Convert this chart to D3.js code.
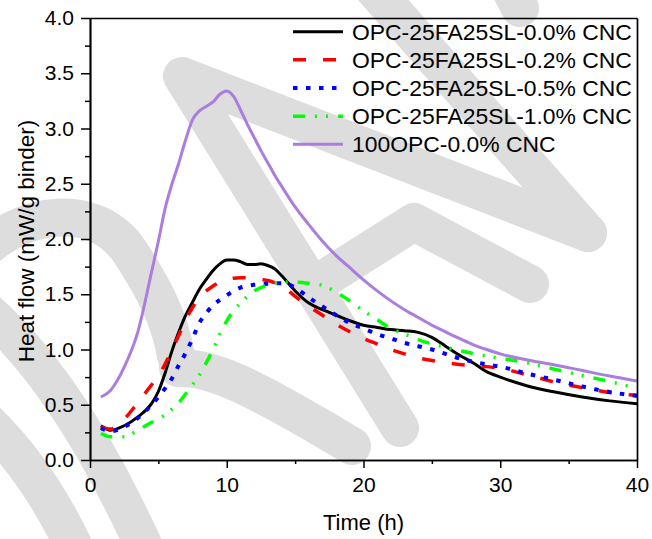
<!DOCTYPE html>
<html>
<head>
<meta charset="utf-8">
<script src="https://cdn.jsdelivr.net/npm/d3@7"></script>
<style>
  html, body { margin: 0; padding: 0; background: #fff; }
  svg { display: block; }
  text { font-family: "Liberation Sans", Arial, sans-serif; fill: #000; }
</style>
</head>
<body>
<svg id="chart" width="652" height="539"></svg>
<script>
// ---------------- data ----------------
const hours = [0.8,1.5,2.5,3.5,4.5,5,5.5,6,6.5,7,7.5,8,8.5,9,9.5,10,10.5,11,11.5,12,12.5,13,13.5,14,15,16,17,18,19,20,21,22,23,24,25,26,27,28,29,30,32,34,36,38,40];

const cnc00 = [0.31,0.27,0.31,0.39,0.51, 0.62,0.79,0.99,1.16,1.31, 1.43,1.545,1.635,1.715,1.775, 1.81,1.81,1.795,1.77,1.77, 1.775,1.76,1.73,1.67,1.53, 1.42,1.36,1.31,1.26,1.22, 1.20,1.18,1.17,1.155,1.11, 1.03,0.95,0.88,0.80,0.75, 0.67,0.615,0.57,0.535,0.51];
const cnc02 = [0.30,0.28,0.37,0.52,0.68, 0.76,0.87,1.00,1.13,1.27, 1.38,1.47,1.53,1.575,1.61, 1.63,1.645,1.65,1.65,1.645, 1.635,1.625,1.605,1.58,1.48, 1.39,1.31,1.23,1.16,1.10, 1.05,1.00,0.96,0.925,0.90, 0.88,0.865,0.855,0.845,0.83, 0.77,0.705,0.655,0.61,0.585];
const cnc05 = [0.29,0.26,0.30,0.38,0.50, 0.57,0.65,0.74,0.86,0.97, 1.10,1.24,1.33,1.40,1.45, 1.49,1.53,1.56,1.575,1.585, 1.59,1.595,1.60,1.60,1.56, 1.47,1.39,1.31,1.24,1.19, 1.14,1.10,1.06,1.03,1.00, 0.96,0.92,0.89,0.865,0.845, 0.78,0.725,0.665,0.615,0.58];
const cnc10 = [0.24,0.21,0.21,0.27,0.34, 0.37,0.41,0.46,0.52,0.60, 0.68,0.77,0.88,1.00,1.14, 1.26,1.35,1.42,1.48,1.53, 1.56,1.585,1.60,1.61,1.61, 1.60,1.58,1.52,1.44,1.35, 1.27,1.19,1.14,1.09,1.05, 1.02,0.99,0.965,0.94,0.92, 0.88,0.82,0.765,0.71,0.65];
const opc100 = [0.57,0.63,0.84,1.16,1.70, 1.98,2.28,2.50,2.69,2.90, 3.08,3.16,3.20,3.24,3.31, 3.34,3.29,3.17,3.04,2.92, 2.80,2.69,2.58,2.48,2.29, 2.13,1.98,1.85,1.74,1.63, 1.53,1.44,1.36,1.29,1.22, 1.16,1.10,1.045,1.00,0.96, 0.905,0.86,0.81,0.76,0.715];

const seriesNames = ["OPC-25FA25SL-0.0% CNC","OPC-25FA25SL-0.2% CNC","OPC-25FA25SL-0.5% CNC","OPC-25FA25SL-1.0% CNC","100OPC-0.0% CNC"];
const seriesValues = [cnc00, cnc02, cnc05, cnc10, opc100];

const xTicks = [0,10,20,30,40];
const xMinorTicks = [5,15,25,35];
const yTicks = [0,0.5,1.0,1.5,2.0,2.5,3.0,3.5,4.0];
const yMinorTicks = [0.25,0.75,1.25,1.75,2.25,2.75,3.25,3.75];
const xTitle = "Time (h)";
const yTitle = "Heat flow (mW/g binder)";

// ---------------- styles ----------------
const styles = [
  {color:"#000000", width:3,   dash:null},
  {color:"#ff0000", width:3.5, dash:"13,17"},
  {color:"#0000ff", width:4,   dash:"4.5,8.5"},
  {color:"#00ff00", width:3.5, dash:"12,10,2,9,2,10"},
  {color:"#aa7ddf", width:3,   dash:null}
];

// decorative background watermark (pixel space, not data)
const watermark = [
  "M400,428 L182,76 L588,233",
  "M357,-30 L588,233",
  "M316,284 L414,222 L530,284",
  "M500,-30 L520,8",
  "M-20,254 C20,212 95,200 130,252 C155,290 170,320 176,356",
  "M178,368 C210,366 250,385 352,446",
  "M-20,305 Q70,380 150,560",
  "M-20,415 Q40,470 80,560"
];

// ---------------- chart ----------------
const svg = d3.select("#chart");
svg.append("rect").attr("width",652).attr("height",539).attr("fill","#fff");

svg.append("g").selectAll("path").data(watermark).join("path")
  .attr("d", d => d)
  .attr("fill","none").attr("stroke","#dddddd").attr("stroke-width",38)
  .attr("stroke-linecap","round").attr("stroke-linejoin","round");

const m = {left:90, right:637, top:18, bottom:460};
const x = d3.scaleLinear().domain([0,40]).range([m.left, m.right]);
const y = d3.scaleLinear().domain([0,4]).range([m.bottom, m.top]);

// series
const line = d3.line().x(d => x(d[0])).y(d => y(d[1])).curve(d3.curveMonotoneX);
seriesValues.forEach((vals, i) => {
  const pts = hours.map((h, k) => [h, vals[k]]);
  svg.append("path").datum(pts)
    .attr("d", line)
    .attr("fill","none")
    .attr("stroke", styles[i].color)
    .attr("stroke-width", styles[i].width)
    .attr("stroke-dasharray", styles[i].dash)
    .attr("stroke-linejoin","round");
});

// axes
function styleAxis(g){
  g.selectAll(".domain").attr("stroke","#000").attr("stroke-width",1.7);
  g.selectAll(".tick line").attr("stroke","#000").attr("stroke-width",1.5);
  g.selectAll("text").style("font-family",'"Liberation Sans", Arial, sans-serif').style("font-size","21px").attr("fill","#000");
}
svg.append("g").attr("transform",`translate(0,${m.bottom})`)
  .call(d3.axisBottom(x).tickValues(xTicks).tickSize(8).tickSizeOuter(0).tickPadding(9).tickFormat(d3.format("d")))
  .call(styleAxis);
svg.append("g").attr("transform",`translate(0,${m.bottom})`)
  .call(d3.axisBottom(x).tickValues(xMinorTicks).tickSize(4).tickSizeOuter(0).tickFormat(""))
  .call(styleAxis);
svg.append("g").attr("transform",`translate(${m.left},0)`)
  .call(d3.axisLeft(y).tickValues(yTicks).tickSize(9).tickSizeOuter(0).tickPadding(7).tickFormat(d3.format(".1f")))
  .call(styleAxis);
svg.append("g").attr("transform",`translate(${m.left},0)`)
  .call(d3.axisLeft(y).tickValues(yMinorTicks).tickSize(5).tickSizeOuter(0).tickFormat(""))
  .call(styleAxis);
svg.append("g").attr("transform",`translate(0,${m.top})`)
  .call(d3.axisTop(x).tickValues([]).tickSizeOuter(0))
  .call(styleAxis);
svg.append("g").attr("transform",`translate(${m.right},0)`)
  .call(d3.axisRight(y).tickValues([]).tickSizeOuter(0))
  .call(styleAxis);

// titles
svg.append("text").attr("x", (m.left+m.right)/2).attr("y", 530)
  .attr("text-anchor","middle").style("font-size","22px").text(xTitle);
svg.append("text").attr("transform",`translate(34,${(m.top+m.bottom)/2 + 2}) rotate(-90)`)
  .attr("text-anchor","middle").style("font-size","22.5px").text(yTitle);

// legend
const lg = svg.append("g");
seriesNames.forEach((name, i) => {
  const yy = 31.7 + i*28.15;
  lg.append("line").attr("x1",293).attr("x2",343).attr("y1",yy).attr("y2",yy)
    .attr("stroke", styles[i].color).attr("stroke-width", styles[i].width)
    .attr("stroke-dasharray", styles[i].dash);
  lg.append("text").attr("x",352).attr("y",yy+8).style("font-size","22.9px").text(name);
});
</script>
</body>
</html>
